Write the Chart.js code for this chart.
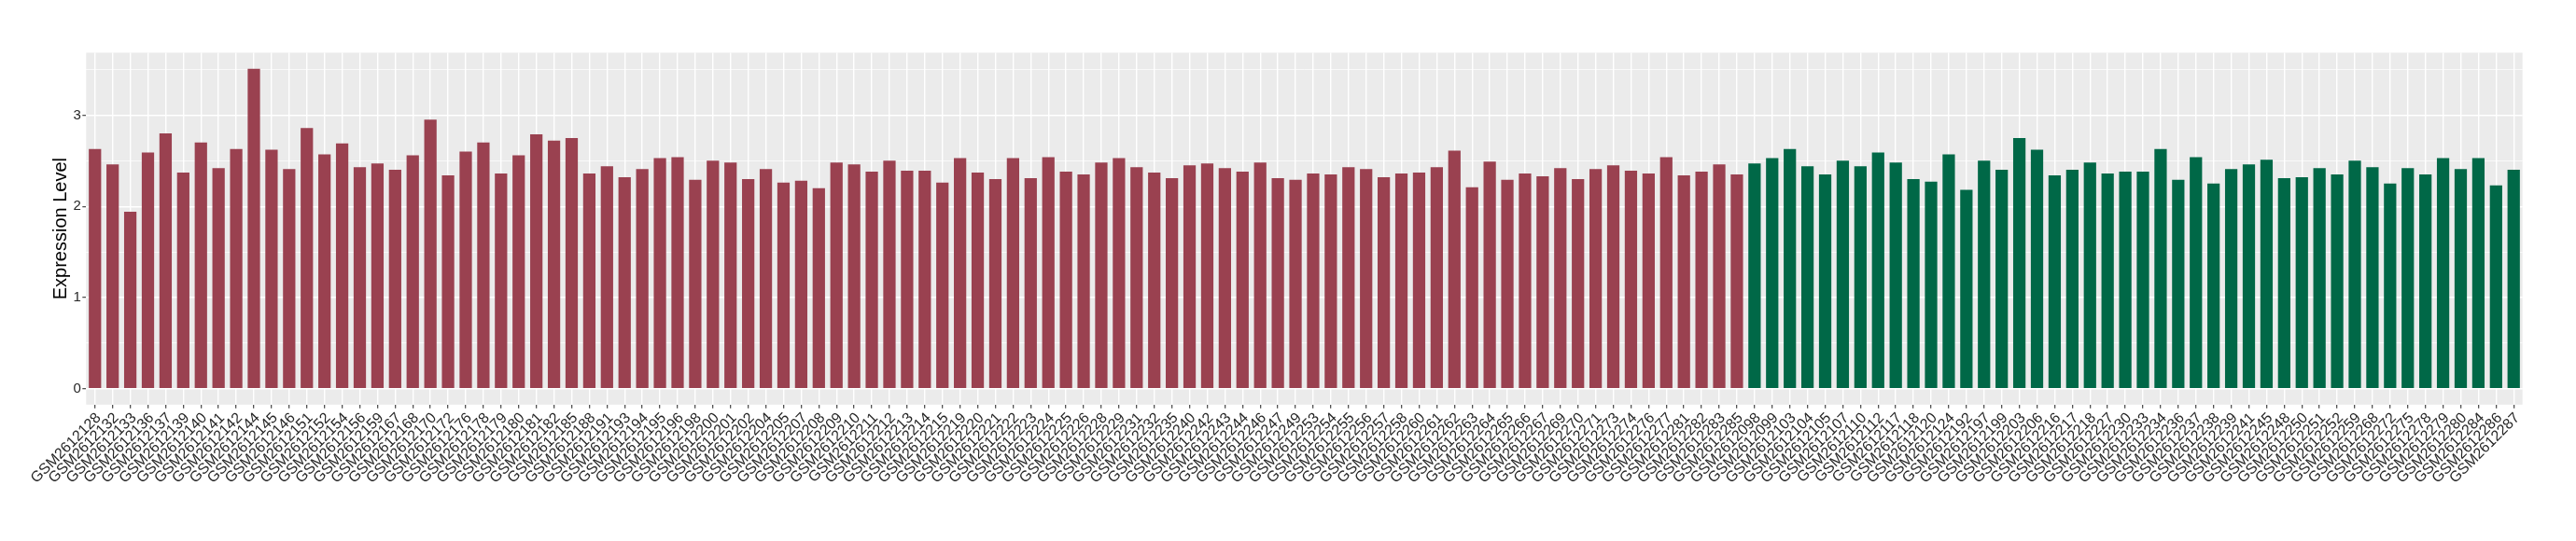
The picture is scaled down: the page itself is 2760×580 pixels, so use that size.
<!DOCTYPE html>
<html>
<head>
<meta charset="utf-8">
<script src="https://cdn.jsdelivr.net/npm/chart.js@4/dist/chart.umd.min.js"></script>
<style>
  html, body { margin: 0; padding: 0; background: #ffffff; }
  #wrap { width: 2760px; height: 580px; }
</style>
</head>
<body>
<div id="wrap"><canvas id="c" width="2760" height="580"></canvas></div>
<script>
// ---- data ----
const redSamples = [
  "GSM2612128","GSM2612132","GSM2612133","GSM2612136","GSM2612137","GSM2612139","GSM2612140","GSM2612141","GSM2612142","GSM2612144",
  "GSM2612145","GSM2612146","GSM2612151","GSM2612152","GSM2612154","GSM2612156","GSM2612159","GSM2612167","GSM2612168","GSM2612170",
  "GSM2612172","GSM2612176","GSM2612178","GSM2612179","GSM2612180","GSM2612181","GSM2612182","GSM2612185","GSM2612188","GSM2612191",
  "GSM2612193","GSM2612194","GSM2612195","GSM2612196","GSM2612198","GSM2612200","GSM2612201","GSM2612202","GSM2612204","GSM2612205",
  "GSM2612207","GSM2612208","GSM2612209","GSM2612210","GSM2612211","GSM2612212","GSM2612213","GSM2612214","GSM2612215","GSM2612219",
  "GSM2612220","GSM2612221","GSM2612222","GSM2612223","GSM2612224","GSM2612225","GSM2612226","GSM2612228","GSM2612229","GSM2612231",
  "GSM2612232","GSM2612235","GSM2612240","GSM2612242","GSM2612243","GSM2612244","GSM2612246","GSM2612247","GSM2612249","GSM2612253",
  "GSM2612254","GSM2612255","GSM2612256","GSM2612257","GSM2612258","GSM2612260","GSM2612261","GSM2612262","GSM2612263","GSM2612264",
  "GSM2612265","GSM2612266","GSM2612267","GSM2612269","GSM2612270","GSM2612271","GSM2612273","GSM2612274","GSM2612276","GSM2612277",
  "GSM2612281","GSM2612282","GSM2612283","GSM2612285"
];
const redValues = [
  2.63,2.46,1.94,2.59,2.80,2.37,2.70,2.42,2.63,3.51,
  2.62,2.41,2.86,2.57,2.69,2.43,2.47,2.40,2.56,2.95,
  2.34,2.60,2.70,2.36,2.56,2.79,2.72,2.75,2.36,2.44,
  2.32,2.41,2.53,2.54,2.29,2.50,2.48,2.30,2.41,2.26,
  2.28,2.20,2.48,2.46,2.38,2.50,2.39,2.39,2.26,2.53,
  2.37,2.30,2.53,2.31,2.54,2.38,2.35,2.48,2.53,2.43,
  2.37,2.31,2.45,2.47,2.42,2.38,2.48,2.31,2.29,2.36,
  2.35,2.43,2.41,2.32,2.36,2.37,2.43,2.61,2.21,2.49,
  2.29,2.36,2.33,2.42,2.30,2.41,2.45,2.39,2.36,2.54,
  2.34,2.38,2.46,2.35
];
const greenSamples = [
  "GSM2612098","GSM2612099","GSM2612103","GSM2612104","GSM2612105","GSM2612107","GSM2612110","GSM2612112","GSM2612117","GSM2612118",
  "GSM2612120","GSM2612124","GSM2612192","GSM2612197","GSM2612199","GSM2612203","GSM2612206","GSM2612216","GSM2612217","GSM2612218",
  "GSM2612227","GSM2612230","GSM2612233","GSM2612234","GSM2612236","GSM2612237","GSM2612238","GSM2612239","GSM2612241","GSM2612245",
  "GSM2612248","GSM2612250","GSM2612251","GSM2612252","GSM2612259","GSM2612268","GSM2612272","GSM2612275","GSM2612278","GSM2612279",
  "GSM2612280","GSM2612284","GSM2612286","GSM2612287"
];
const greenValues = [
  2.47,2.53,2.63,2.44,2.35,2.50,2.44,2.59,2.48,2.30,
  2.27,2.57,2.18,2.50,2.40,2.75,2.62,2.34,2.40,2.48,
  2.36,2.38,2.38,2.63,2.29,2.54,2.25,2.41,2.46,2.51,
  2.31,2.32,2.42,2.35,2.50,2.43,2.25,2.42,2.35,2.53,
  2.41,2.53,2.23,2.40
];
const yTickValues = [0, 0.5, 1, 1.5, 2, 2.5, 3, 3.5];
const yMin = -0.1755;
const yMax = 3.6855;
const yTitle = "Expression Level";
const redColor = "#9A4150";
const greenColor = "#006847";

const labels = redSamples.concat(greenSamples);
const values = redValues.concat(greenValues);
const colors = redSamples.map(() => redColor).concat(greenSamples.map(() => greenColor));

const FONT = "'Liberation Sans', Arial, Helvetica, sans-serif";

const panelBg = {
  id: 'panelBg',
  beforeDraw(chart) {
    const {ctx, chartArea: a} = chart;
    ctx.save();
    ctx.fillStyle = '#ffffff';
    ctx.fillRect(0, 0, chart.width, chart.height);
    ctx.fillStyle = '#EBEBEB';
    ctx.fillRect(a.left, a.top, a.right - a.left, a.bottom - a.top);
    ctx.restore();
  }
};

new Chart(document.getElementById('c'), {
  type: 'bar',
  data: {
    labels: labels,
    datasets: [{
      data: values,
      backgroundColor: colors,
      borderWidth: 0,
      barPercentage: 0.7,
      categoryPercentage: 1.0
    }]
  },
  options: {
    responsive: false,
    animation: false,
    devicePixelRatio: 1,
    layout: { padding: { left: 0, top: 56.5, right: 57.3, bottom: 0 } },
    plugins: { legend: { display: false }, tooltip: { enabled: false } },
    scales: {
      x: {
        type: 'category',
        offset: true,
        grid: {
          offset: false,
          color: '#ffffff',
          lineWidth: 1.4,
          drawTicks: true,
          tickLength: 4,
          tickColor: '#333333',
          tickWidth: 1.1
        },
        border: { display: false },
        ticks: {
          autoSkip: false,
          minRotation: 45,
          maxRotation: 45,
          padding: 1,
          labelOffset: 4,
          color: '#262626',
          font: { family: FONT, size: 16 }
        },
        afterFit(scale) {
          scale.height = 580 - 433.8;
          scale.paddingLeft = 0;
          scale.paddingRight = 0;
        }
      },
      y: {
        type: 'linear',
        min: yMin,
        max: yMax,
        afterBuildTicks(scale) {
          scale.ticks = yTickValues.map(v => ({ value: v }));
        },
        grid: {
          color: '#ffffff',
          lineWidth: (ctx) => (ctx.tick && ctx.tick.value % 1 === 0) ? 1.4 : 0.7,
          drawTicks: true,
          tickLength: 4,
          tickColor: (ctx) => (ctx.tick && ctx.tick.value % 1 === 0) ? '#333333' : 'rgba(0,0,0,0)',
          tickWidth: 1.1
        },
        border: { display: false },
        ticks: {
          padding: 1.5,
          color: '#262626',
          font: { family: FONT, size: 15 },
          callback: (v) => (v % 1 === 0) ? String(v) : ''
        },
        title: {
          display: true,
          text: yTitle,
          color: '#000000',
          font: { family: FONT, size: 20 },
          padding: { top: 53, bottom: 0 }
        },
        afterFit(scale) {
          scale.width = 92.3;
        }
      }
    }
  },
  plugins: [panelBg]
});
</script>
</body>
</html>
